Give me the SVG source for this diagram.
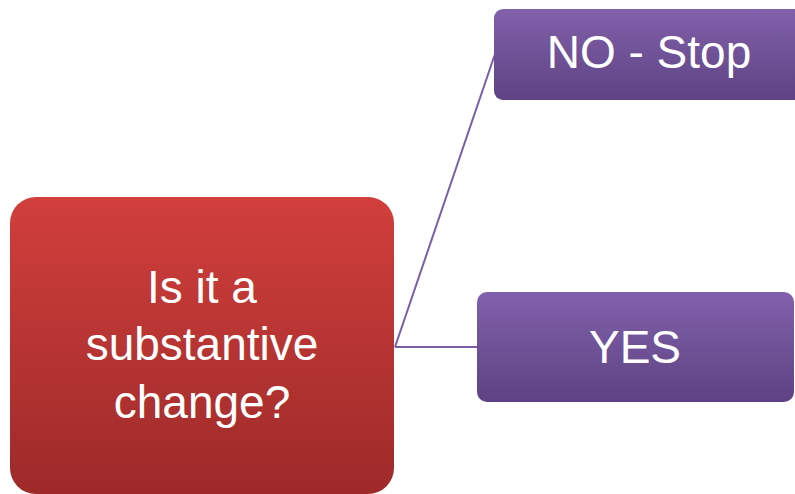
<svg xmlns="http://www.w3.org/2000/svg" width="795" height="494" viewBox="0 0 795 494">
<defs>
<linearGradient id="red" x1="0" y1="0" x2="0" y2="1">
<stop offset="0" stop-color="#d13f3c"/>
<stop offset="1" stop-color="#9d2a29"/>
</linearGradient>
<linearGradient id="purple" x1="0" y1="0" x2="0" y2="1">
<stop offset="0" stop-color="#8161ab"/>
<stop offset="1" stop-color="#5e4283"/>
</linearGradient>
<style>
.lbl{font-family:"Liberation Sans",Arial,sans-serif;font-size:46px;fill:#ffffff;text-anchor:middle}
.conn{stroke:#7a5ea8;stroke-width:2;fill:none}
</style>
</defs>
<rect width="795" height="494" fill="#ffffff"/>
<g id="connectors">
<line class="conn" x1="395" y1="347" x2="495" y2="54"/>
<line class="conn" x1="395" y1="347" x2="478" y2="347"/>
</g>
<g id="question">
<rect x="10" y="197" width="384" height="297" rx="26" fill="url(#red)"/>
<text class="lbl" x="202" y="303">Is it a</text>
<text class="lbl" x="202" y="360">substantive</text>
<text class="lbl" x="202" y="418">change?</text>
</g>
<g id="no">
<rect x="494" y="9" width="312" height="91" rx="9" fill="url(#purple)"/>
<text class="lbl" x="649" y="68">NO - Stop</text>
</g>
<g id="yes">
<rect x="477" y="292" width="317" height="110" rx="10" fill="url(#purple)"/>
<text class="lbl" x="635" y="363">YES</text>
</g>
</svg>
